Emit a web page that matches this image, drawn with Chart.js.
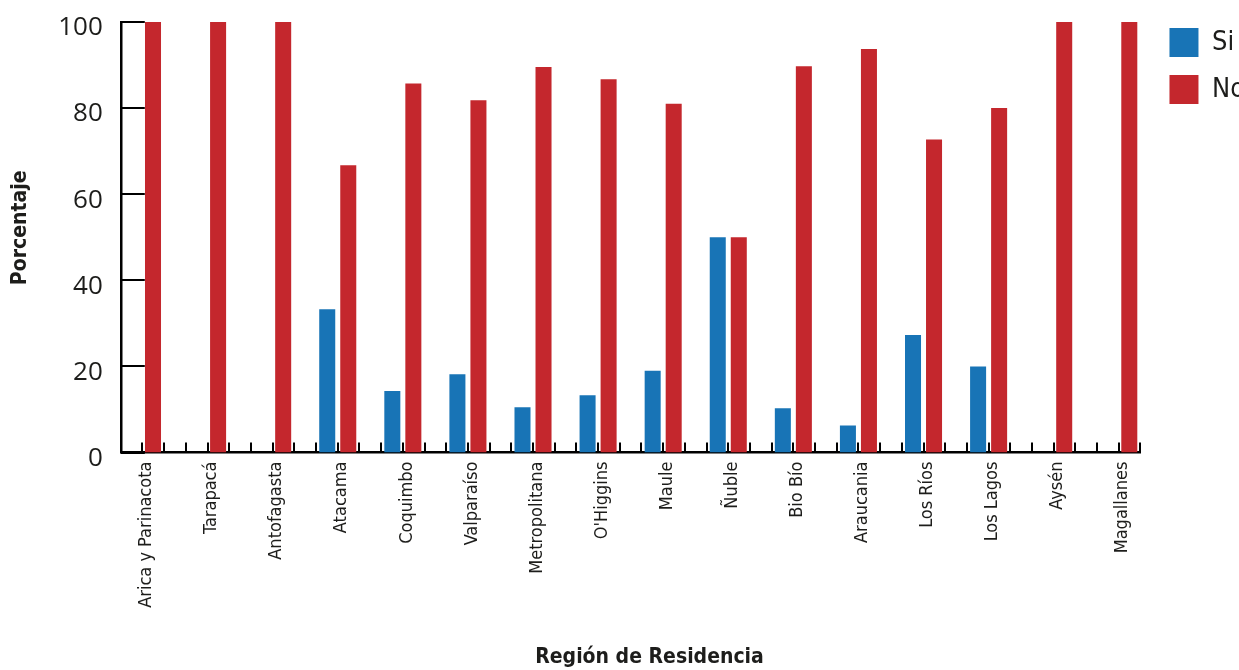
<!DOCTYPE html>
<html>
<head>
<meta charset="utf-8">
<script src="https://cdn.jsdelivr.net/npm/chart.js@4/dist/chart.umd.min.js"></script>
<style>
  html, body { margin: 0; padding: 0; background: #fff; }
  #wrap { width: 1239px; height: 670px; }
</style>
</head>
<body>
<div id="wrap"><canvas id="RegionCanvas"></canvas></div>
<script>
// data
const regiones = ["Arica y Parinacota", "Tarapacá", "Antofagasta", "Atacama", "Coquimbo", "Valparaíso",
  "Metropolitana", "O'Higgins", "Maule", "Ñuble", "Bio Bío", "Araucania", "Los Ríos", "Los Lagos",
  "Aysén", "Magallanes"];
const siValues = [0, 0, 0, 33.3, 14.3, 18.2, 10.5, 13.3, 19.0, 50, 10.3, 6.3, 27.3, 20.0, 0, 0];
const noValues = [100, 100, 100, 66.7, 85.7, 81.8, 89.5, 86.7, 81.0, 50, 89.7, 93.7, 72.7, 80.0, 100, 100];
const yTicks = [0, 20, 40, 60, 80, 100];

const BLUE = '#1874b6';
const RED = '#c4272d';
const TEXT = '#1d1d1b';
const NARROW = "'Liberation Sans Narrow', 'DejaVu Sans Condensed', 'Open Sans', sans-serif";

const xMin = -1 / 3;
const xMax = regiones.length - 1 + 1 / 3;

//---------------------- PLUGINS

// small tick marks drawn inside the plot area
const insideTicks = {
    id: 'insideTicks',
    beforeDatasetsDraw(chart) {
        const {ctx, chartArea, scales} = chart;
        ctx.save();
        ctx.strokeStyle = '#000';
        ctx.lineWidth = 2;
        scales.y.ticks.forEach(t => {
            const py = Math.round(scales.y.getPixelForValue(t.value));
            ctx.beginPath();
            ctx.moveTo(chartArea.left, py);
            ctx.lineTo(chartArea.left + 24, py);
            ctx.stroke();
        });
        const steps = Math.round((xMax - xMin) * 3);
        for (let k = 0; k <= steps; k++) {
            const px = Math.round(scales.x.getPixelForValue(xMin + k / 3));
            ctx.beginPath();
            ctx.moveTo(px, chartArea.bottom);
            ctx.lineTo(px, chartArea.bottom - 10);
            ctx.stroke();
        }
        ctx.restore();
    }
};

//---------------------- CHART

const myChart = new Chart(document.getElementById("RegionCanvas").getContext("2d"), {
    type: 'bar',
    data: {
        datasets: [
            {
                label: 'Si',
                backgroundColor: BLUE,
                borderWidth: 0,
                data: siValues.map((v, i) => ({x: i, y: v}))
            },
            {
                label: 'No',
                backgroundColor: RED,
                borderWidth: 0,
                data: noValues.map((v, i) => ({x: i, y: v}))
            }
        ]
    },
    options: {
        responsive: true,
        maintainAspectRatio: false,
        animation: false,
        categoryPercentage: 0.646,
        barPercentage: 0.762,
        layout: {padding: {left: 8, top: 0, right: -16, bottom: 0}},
        plugins: {
            legend: {
                position: 'right',
                align: 'start',
                title: {display: true, text: '', font: {size: 5}, padding: 2},
                labels: {
                    boxWidth: 29,
                    boxHeight: 29,
                    padding: 18,
                    color: TEXT,
                    font: {family: NARROW, size: 27}
                }
            },
            tooltip: {enabled: false}
        },
        scales: {
            x: {
                type: 'linear',
                min: xMin,
                max: xMax,
                offset: false,
                grid: {display: false, drawTicks: false},
                border: {display: true, color: '#000', width: 2.5},
                ticks: {
                    stepSize: 1,
                    includeBounds: false,
                    autoSkip: false,
                    minRotation: 90,
                    maxRotation: 90,
                    padding: 9,
                    labelOffset: 4,
                    color: TEXT,
                    font: {family: NARROW, size: 18},
                    callback: v => regiones[v] ?? ''
                },
                title: {
                    display: true,
                    text: '\u2002\u2002\u2002\u2002Región de Residencia',
                    color: TEXT,
                    font: {family: NARROW, size: 21, weight: 'bold'},
                    padding: {top: 28, bottom: 0}
                }
            },
            y: {
                min: 0,
                max: 100,
                grid: {display: false, drawTicks: false},
                border: {display: true, color: '#000', width: 2.5},
                afterBuildTicks: scale => { scale.ticks = yTicks.map(v => ({value: v})); },
                ticks: {
                    padding: 18,
                    labelOffset: 6,
                    color: TEXT,
                    font: {family: "'Open Sans', sans-serif", size: 26, lineHeight: 0.3}
                },
                title: {
                    display: true,
                    text: '\u2002\u2002Porcentaje',
                    color: TEXT,
                    font: {family: NARROW, size: 21, weight: 'bold'},
                    padding: {top: 0, bottom: 7}
                }
            },
            // empty axis on the right, only keeps a gap before the legend
            yGap: {
                position: 'right',
                display: true,
                grid: {display: false, drawTicks: false},
                border: {display: false},
                ticks: {display: false},
                afterFit: scale => { scale.width = 11; }
            }
        }
    },
    plugins: [insideTicks]
});
</script>
</body>
</html>
